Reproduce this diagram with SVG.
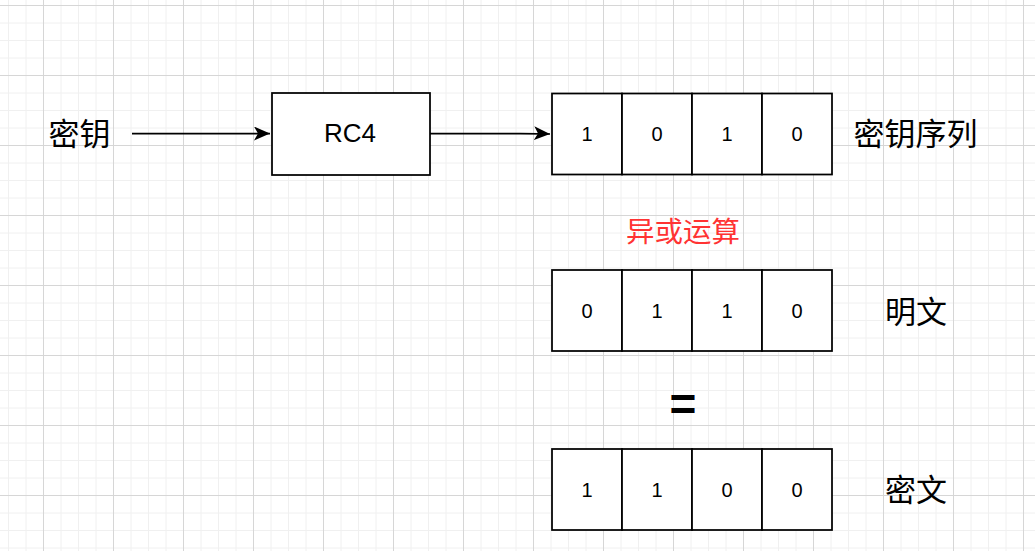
<svg xmlns="http://www.w3.org/2000/svg" width="1035" height="551" viewBox="0 0 1035 551">
<defs>
<pattern id="grid" patternUnits="userSpaceOnUse" x="43" y="5" width="70" height="70">
<path d="M18 0V70M35.5 0V70M53 0V70M0 18H70M0 35.5H70M0 53H70" stroke="#f0f0f0" stroke-width="1" fill="none"/>
<path d="M0.5 0V70M0 0.5H70" stroke="#d6d6d6" stroke-width="1" fill="none"/>
</pattern>
<marker id="arrow" viewBox="0 0 16 14" refX="16" refY="7" markerWidth="16" markerHeight="14" markerUnits="userSpaceOnUse" orient="auto">
<path d="M0 0L16 7L0 14L4 7Z" fill="#000"/>
</marker>
</defs>
<style>
.box{fill:#fff;stroke:#000;stroke-width:1.75}
.bit{font-family:"Liberation Sans",Arial,sans-serif;font-size:20px;fill:#000;text-anchor:middle;dominant-baseline:central}
.cjk{font-family:"Noto Sans CJK SC","Liberation Sans",sans-serif;font-size:31px;fill:#000;text-anchor:middle;dominant-baseline:central}
.conn{fill:none;stroke:#000;stroke-width:1.75}
</style>
<rect width="1035" height="551" fill="#fff"/>
<rect width="1035" height="551" fill="url(#grid)"/>

<g id="connectors">
<path class="conn" d="M132 133.5H270" marker-end="url(#arrow)"/>
<path class="conn" d="M430 133.5H520Q540 133.5 550 134" marker-end="url(#arrow)"/>
</g>

<g id="key-label"><text class="cjk" x="79.5" y="131">密钥</text></g>

<g id="rc4">
<rect class="box" x="272" y="93" width="158" height="82"/>
<text x="350" y="133" font-family="Liberation Sans, Arial, sans-serif" font-size="26" text-anchor="middle" dominant-baseline="central">RC4</text>
</g>

<g id="keystream">
<rect class="box" x="552" y="93.5" width="70" height="81"/>
<rect class="box" x="622" y="93.5" width="70" height="81"/>
<rect class="box" x="692" y="93.5" width="70" height="81"/>
<rect class="box" x="762" y="93.5" width="70" height="81"/>
<text class="bit" x="587" y="134">1</text>
<text class="bit" x="657" y="134">0</text>
<text class="bit" x="727" y="134">1</text>
<text class="bit" x="797" y="134">0</text>
</g>
<g id="keystream-label"><text class="cjk" x="915.5" y="131">密钥序列</text></g>

<g id="xor-label"><text class="cjk" x="683" y="229" style="font-size:28.5px;fill:#ff3333">异或运算</text></g>

<g id="plaintext">
<rect class="box" x="552" y="270" width="70" height="81"/>
<rect class="box" x="622" y="270" width="70" height="81"/>
<rect class="box" x="692" y="270" width="70" height="81"/>
<rect class="box" x="762" y="270" width="70" height="81"/>
<text class="bit" x="587" y="311">0</text>
<text class="bit" x="657" y="311">1</text>
<text class="bit" x="727" y="311">1</text>
<text class="bit" x="797" y="311">0</text>
</g>
<g id="plaintext-label"><text class="cjk" x="916" y="309">明文</text></g>

<g id="equals"><text x="683" y="404" font-family="Liberation Sans, Arial, sans-serif" font-size="46" font-weight="bold" text-anchor="middle" dominant-baseline="central">=</text></g>

<g id="ciphertext">
<rect class="box" x="552" y="449" width="70" height="81"/>
<rect class="box" x="622" y="449" width="70" height="81"/>
<rect class="box" x="692" y="449" width="70" height="81"/>
<rect class="box" x="762" y="449" width="70" height="81"/>
<text class="bit" x="587" y="490">1</text>
<text class="bit" x="657" y="490">1</text>
<text class="bit" x="727" y="490">0</text>
<text class="bit" x="797" y="490">0</text>
</g>
<g id="ciphertext-label"><text class="cjk" x="916" y="487">密文</text></g>
</svg>
